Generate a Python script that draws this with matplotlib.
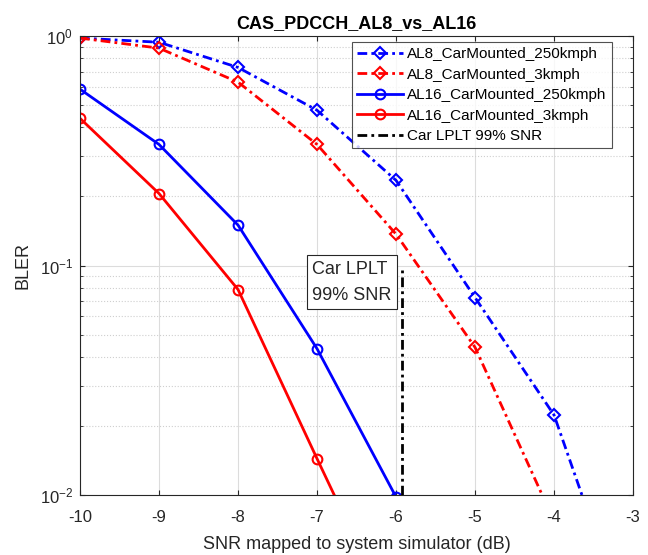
import matplotlib
matplotlib.use("Agg")
import matplotlib.pyplot as plt
from matplotlib.ticker import LogLocator, NullFormatter

plt.rcParams['font.family'] = ['Liberation Sans', 'DejaVu Sans']
plt.rcParams['axes.unicode_minus'] = False

snr = [-10, -9, -8, -7, -6, -5, -4, -3]
al8_250 = [0.98, 0.94, 0.73, 0.475, 0.235, 0.0725, 0.0223, 0.0023]
al8_3 = [0.98, 0.886, 0.63, 0.337, 0.137, 0.044, 0.0077]
al16_250 = [0.587, 0.337, 0.15, 0.0434, 0.0098]
al16_3 = [0.438, 0.206, 0.0786, 0.0144, 0.0027]
lplt_x = -5.93
lplt_y = [0.01, 0.1]

DD = (3.5, 1.5, 1, 1.5)

fig = plt.figure(figsize=(6.48, 5.55), dpi=100)
ax = fig.add_axes([0.1235, 0.108, 0.8535, 0.827])

ax.plot(snr[:len(al8_250)], al8_250, '-.', dashes=DD, color='#0000ff', lw=2, marker='D',
        ms=6, mfc='none', mew=1.5, label='AL8_CarMounted_250kmph')
ax.plot(snr[:len(al8_3)], al8_3, '-.', dashes=DD, color='#ff0000', lw=2, marker='D',
        ms=6, mfc='none', mew=1.5, label='AL8_CarMounted_3kmph')
ax.plot(snr[:len(al16_250)], al16_250, '-', color='#0000ff', lw=2, marker='o',
        ms=7, mfc='none', mew=1.5, label='AL16_CarMounted_250kmph')
ax.plot(snr[:len(al16_3)], al16_3, '-', color='#ff0000', lw=2, marker='o',
        ms=7, mfc='none', mew=1.5, label='AL16_CarMounted_3kmph')
ax.plot([lplt_x, lplt_x], lplt_y, '-.', dashes=DD, color='black', lw=2,
        label='Car LPLT 99% SNR')

ax.set_yscale('log')
ax.set_xlim(-10, -3)
ax.set_ylim(0.01, 1)
ax.set_xticks(range(-10, -2))
ax.yaxis.set_minor_locator(LogLocator(base=10, subs=range(2, 10)))
ax.yaxis.set_minor_formatter(NullFormatter())
ax.grid(True, which='major', color='#dcdcdc', lw=0.8, ls='-')
ax.grid(True, which='minor', axis='y', color='#cfcfcf', lw=0.8, ls=':')
ax.tick_params(which='both', direction='in', labelsize=12, colors='#262626',
               top=True, right=True)
ax.tick_params(axis='x', pad=11)
ax.tick_params(axis='y', pad=5)
ax.tick_params(which='minor', length=2)
for s in ax.spines.values():
    s.set_color('#262626')
    s.set_linewidth(0.8)

ax.set_title('CAS_PDCCH_AL8_vs_AL16', fontsize=13, fontweight='bold', pad=6)
ax.set_xlabel('SNR mapped to system simulator (dB)', fontsize=13, color='#262626',
              labelpad=8)
ax.set_ylabel('BLER', fontsize=13, color='#262626', labelpad=6)

leg = ax.legend(loc='upper right', bbox_to_anchor=(0.962, 0.987), fontsize=11,
                frameon=True, fancybox=False, edgecolor='#262626',
                borderpad=0.35, labelspacing=0.42, handlelength=3.0,
                handletextpad=0.3, borderaxespad=0.0)
leg.get_frame().set_linewidth(0.8)

ax.text(-7.06, 0.068, 'Car LPLT\n99% SNR', fontsize=13, ha='left', va='bottom',
        color='#262626', linespacing=1.7,
        bbox=dict(boxstyle='square,pad=0.3', fc='white', ec='#262626', lw=0.8))

fig.savefig('out.png', dpi=100)
